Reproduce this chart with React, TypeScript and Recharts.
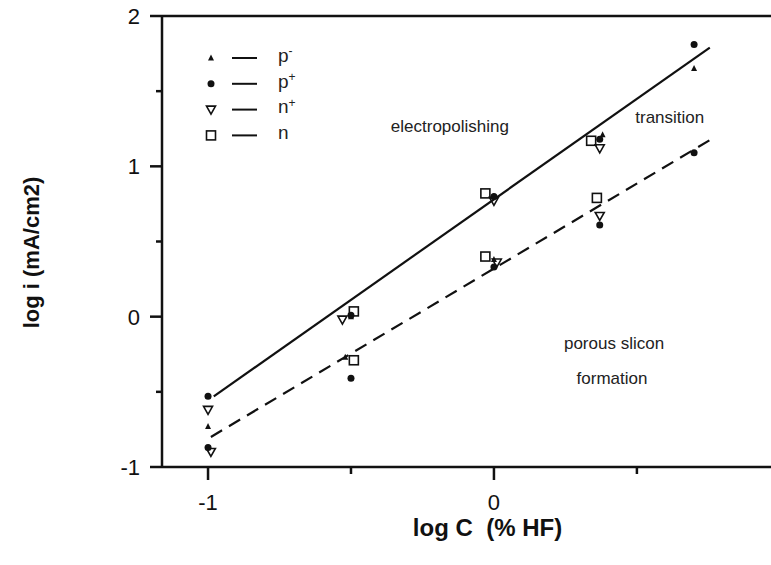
import React from 'react';
import { ScatterChart, Scatter, XAxis, YAxis, ReferenceLine, ReferenceDot, Legend } from 'recharts';

const FONT = '"Liberation Sans", Arial, Helvetica, sans-serif';
const INK = '#111';

// tick values
const X_TICKS = [-1, -0.5, 0, 0.5];
const Y_TICKS = [-1, -0.5, 0, 0.5, 1, 1.5, 2];
const X_DOMAIN = [-1.161, 0.969];
const Y_DOMAIN = [-1, 2];

// measured points: log C (x), log i (y)
const P_MINUS = [
  { x: -1.0, y: -0.73 },
  { x: -0.5, y: 0.0 },
  { x: -0.52, y: -0.27 },
  { x: 0.0, y: 0.8 },
  { x: 0.0, y: 0.38 },
  { x: 0.38, y: 1.21 },
  { x: 0.7, y: 1.65 },
];
const P_PLUS = [
  { x: -1.0, y: -0.53 },
  { x: -1.0, y: -0.87 },
  { x: -0.5, y: 0.01 },
  { x: -0.5, y: -0.41 },
  { x: 0.0, y: 0.8 },
  { x: 0.0, y: 0.33 },
  { x: 0.37, y: 1.18 },
  { x: 0.37, y: 0.61 },
  { x: 0.7, y: 1.81 },
  { x: 0.7, y: 1.09 },
];
const N_PLUS = [
  { x: -1.0, y: -0.62 },
  { x: -0.99, y: -0.9 },
  { x: -0.53, y: -0.02 },
  { x: 0.0, y: 0.77 },
  { x: 0.01, y: 0.36 },
  { x: 0.37, y: 1.12 },
  { x: 0.37, y: 0.67 },
];
const N = [
  { x: -0.49, y: 0.035 },
  { x: -0.49, y: -0.29 },
  { x: -0.03, y: 0.82 },
  { x: -0.03, y: 0.4 },
  { x: 0.34, y: 1.17 },
  { x: 0.36, y: 0.79 },
];

// fitted lines
const UPPER_LINE = [{ x: -0.98, y: -0.53 }, { x: 0.755, y: 1.79 }];
const LOWER_LINE = [{ x: -0.99, y: -0.8 }, { x: 0.76, y: 1.18 }];

// annotations
const NOTES = [
  { text: 'electropolishing', x: -0.154, y: 1.267 },
  { text: 'transition', x: 0.615, y: 1.327 },
  { text: 'porous slicon', x: 0.42, y: -0.173 },
  { text: 'formation', x: 0.413, y: -0.407 },
];

const TriUp = ({ cx, cy }: any) => (
  <polygon points={`${cx},${cy - 3.5} ${cx - 3},${cy + 2.5} ${cx + 3},${cy + 2.5}`} fill={INK} />
);
const Dot = ({ cx, cy }: any) => <circle cx={cx} cy={cy} r={3.5} fill={INK} />;
const TriDown = ({ cx, cy }: any) => (
  <polygon
    points={`${cx - 4.5},${cy - 3.5} ${cx + 4.5},${cy - 3.5} ${cx},${cy + 4.5}`}
    fill="#fff"
    fillOpacity={0}
    stroke={INK}
    strokeWidth={1.6}
  />
);
const Square = ({ cx, cy }: any) => (
  <rect x={cx - 4.5} y={cy - 4.5} width={9} height={9} fill="#fff" fillOpacity={0} stroke={INK} strokeWidth={1.6} />
);

const SERIES = [
  { name: 'p', sup: '-', data: P_MINUS, Shape: TriUp },
  { name: 'p', sup: '+', data: P_PLUS, Shape: Dot },
  { name: 'n', sup: '+', data: N_PLUS, Shape: TriDown },
  { name: 'n', sup: '', data: N, Shape: Square },
];

const XTick = (props: any) => {
  const { x, y, payload } = props;
  const major = Number.isInteger(payload.value);
  return (
    <g>
      <line x1={x} x2={x} y1={y} y2={y + (major ? 13 : 7)} stroke={INK} strokeWidth={2.5} />
      {major && (
        <text x={x} y={y + 43} textAnchor="middle" fontSize={22} fill={INK} fontFamily={FONT}>
          {String(payload.value)}
        </text>
      )}
    </g>
  );
};

const YTick = (props: any) => {
  const { x, y, payload } = props;
  const major = Number.isInteger(payload.value);
  return (
    <g>
      <line x1={x - (major ? 12 : 6)} x2={x} y1={y} y2={y} stroke={INK} strokeWidth={2.5} />
      {major && (
        <text x={x - 22} y={y} dy="0.36em" textAnchor="end" fontSize={22} fill={INK} fontFamily={FONT}>
          {String(payload.value)}
        </text>
      )}
    </g>
  );
};

const LegendBox = () => (
  <svg width={140} height={110} style={{ display: 'block' }}>
    {SERIES.map((s, i) => {
      const cy = 18 + i * 25.8;
      const Shape = s.Shape;
      return (
        <g key={i}>
          <Shape cx={16} cy={cy} />
          <line x1={37} x2={62} y1={cy} y2={cy} stroke={INK} strokeWidth={2} />
          <text x={83} y={cy} dy="0.2em" fontSize={19} fill="#222" fontFamily={FONT}>
            <tspan>{s.name}</tspan>
            {s.sup && (
              <tspan dy="-0.55em" fontSize={12}>
                {s.sup}
              </tspan>
            )}
          </text>
        </g>
      );
    })}
  </svg>
);

const XLabel = (props: any) => {
  const { viewBox } = props;
  const cx = viewBox.x + viewBox.width / 2 + 21;
  return (
    <text x={cx} y={536} textAnchor="middle" fontSize={24} fontWeight="bold" fill={INK} fontFamily={FONT} style={{ whiteSpace: 'pre' }}>
      {'log C  (% HF)'}
    </text>
  );
};

const YLabel = (props: any) => {
  const { viewBox } = props;
  const cy = viewBox.y + viewBox.height / 2 + 11;
  return (
    <text
      x={31}
      y={cy}
      transform={`rotate(-90 31 ${cy})`}
      dy="0.36em"
      textAnchor="middle"
      fontSize={22}
      fontWeight="bold"
      fill={INK}
      fontFamily={FONT}
    >
      log i (mA/cm2)
    </text>
  );
};

export default function App() {
  return (
    <div style={{ position: 'absolute', left: 0, top: 0, background: '#fff', fontFamily: FONT }}>
      <ScatterChart width={771} height={565} margin={{ top: 16, right: 0, bottom: 38, left: 82 }}>
        <XAxis
          type="number"
          dataKey="x"
          domain={X_DOMAIN}
          ticks={X_TICKS}
          allowDataOverflow
          height={60}
          tickSize={0}
          tickMargin={0}
          tickLine={false}
          tick={<XTick />}
          axisLine={{ stroke: INK, strokeWidth: 2.5 }}
          label={<XLabel />}
        />
        <YAxis
          type="number"
          dataKey="y"
          domain={Y_DOMAIN}
          ticks={Y_TICKS}
          allowDataOverflow
          width={80}
          tickSize={0}
          tickMargin={0}
          tickLine={false}
          tick={<YTick />}
          axisLine={{ stroke: INK, strokeWidth: 2.5 }}
          label={<YLabel />}
        />
        <ReferenceLine y={2} stroke={INK} strokeWidth={2.5} ifOverflow="visible" />
        <ReferenceLine segment={UPPER_LINE} stroke={INK} strokeWidth={2.2} ifOverflow="visible" />
        <ReferenceLine segment={LOWER_LINE} stroke={INK} strokeWidth={2.2} strokeDasharray="13 8" ifOverflow="visible" />
        {NOTES.map((n) => (
          <ReferenceDot
            key={n.text}
            x={n.x}
            y={n.y}
            r={0}
            stroke="none"
            fill="none"
            label={{ value: n.text, position: 'center', fontSize: 17, fill: '#222', fontFamily: FONT }}
          />
        ))}
        {SERIES.map((s, i) => (
          <Scatter key={i} name={s.name + s.sup} data={s.data} shape={<s.Shape />} isAnimationActive={false} />
        ))}
        <Legend
          layout="vertical"
          verticalAlign="middle"
          align="center"
          content={<LegendBox />}
          wrapperStyle={{ position: 'absolute', left: 195, top: 40, width: 140, height: 110 }}
        />
      </ScatterChart>
    </div>
  );
}
